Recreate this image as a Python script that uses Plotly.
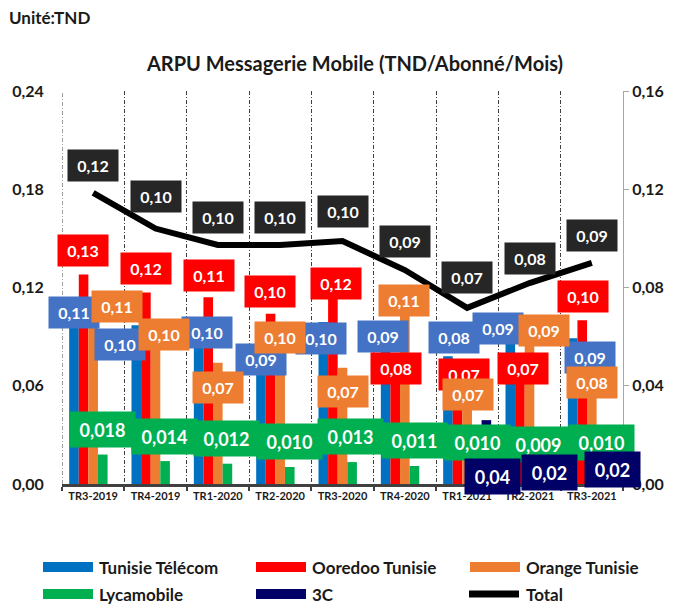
import plotly.graph_objects as go

# ---------------- data ----------------
categories = ["TR3-2019", "TR4-2019", "TR1-2020", "TR2-2020", "TR3-2020",
              "TR4-2020", "TR1-2021", "TR2-2021", "TR3-2021"]
tunisie_telecom = [0.106, 0.097, 0.101, 0.090, 0.099, 0.090, 0.078, 0.087, 0.089]
ooredoo = [0.128, 0.117, 0.114, 0.104, 0.118, 0.080, 0.070, 0.070, 0.100]
orange = [0.108, 0.100, 0.074, 0.098, 0.071, 0.107, 0.070, 0.090, 0.080]
lycamobile = [0.018, 0.014, 0.0124, 0.0104, 0.0134, 0.011, 0.010, 0.009, 0.010]
c3 = [None, None, None, None, None, None, 0.039, 0.020, 0.020]
total = [0.1185, 0.104, 0.0973, 0.0973, 0.0989, 0.0871, 0.0717, 0.0818, 0.090]

# ---------------- styles / layout ----------------
W, H = 675, 605
PL, PR, PT, PB = 62, 623, 91, 484          # plot area in pixels
FONT = "Lato"

bar_colors = {"tt": "#0070C0", "oo": "#FF0000", "or": "#ED7D31", "ly": "#00B050", "c3": "#000066"}
lab_colors = {"tt": "#4472C4", "oo": "#FF0000", "or": "#ED7D31", "ly": "#00B050", "c3": "#000066", "tot": "#262626"}

# label placement: (x offset px from category centre, height px above baseline)
lab_pos = {
    "tt": ([-19, -36, -11, -19, -22, -22, -13, -32, -2], [172, 140, 152, 125, 146, 148, 147, 156, 127]),
    "oo": ([-10, -10, -9, -10, -7, -9, -3, -7, -9], [234, 216, 209, 193, 201, 116, 110, 116, 188]),
    "or": ([24, 8, 0, 0, 0, -1, 1, 14, 0], [178, 150, 97, 147, 93, 184, 90, 154, 102]),
    "ly": ([9, 9, 9, 9, 8, 10, 10, 9, 10], [55, 48, 46, 43, 48, 44, 42, 40, 42]),
    "c3": ([0, 0, 0, 0, 0, 0, 25, 20, 21], [0, 0, 0, 0, 0, 0, 8, 12, 15]),
    "tot": ([0] * 9, [319, 288, 267, 267, 273, 243, 207, 226, 249]),
}

fig = go.Figure()
series = [("tt", "Tunisie Télécom", tunisie_telecom),
          ("oo", "Ooredoo Tunisie", ooredoo),
          ("or", "Orange Tunisie", orange),
          ("ly", "Lycamobile", lycamobile),
          ("c3", "3C", c3)]
for key, name, vals in series:
    fig.add_trace(go.Bar(x=categories, y=vals, name=name, marker_color=bar_colors[key],
                         marker_line_width=0, showlegend=False))

fig.add_trace(go.Scatter(x=categories, y=total, name="Total", mode="lines", yaxis="y2",
                         line=dict(color="black", width=6, shape="linear"), showlegend=False))

annotations = []
def add_labels(key, vals, fmt, w, h, size):
    dxs, hs = lab_pos[key]
    for i, v in enumerate(vals):
        if v is None:
            continue
        txt = fmt.format(v).replace(".", ",")
        annotations.append(dict(
            x=categories[i], y=0, xref="x", yref="y", xshift=dxs[i], yshift=hs[i],
            text="<b>" + txt + "</b>", showarrow=False, bgcolor=lab_colors[key],
            width=w, height=h, borderpad=0, xanchor="center", yanchor="middle",
            font=dict(family=FONT, size=size, color="white")))

add_labels("tt", tunisie_telecom, "{:.2f}", 50, 31, 16)
add_labels("oo", ooredoo, "{:.2f}", 50, 31, 16)
add_labels("or", orange, "{:.2f}", 50, 31, 16)
add_labels("ly", lycamobile, "{:.3f}", 65, 35, 18)
add_labels("c3", c3, "{:.2f}", 55, 35, 18)
add_labels("tot", total, "{:.2f}", 50, 31, 16)

def px(x):
    return (x - PL) / (PR - PL)
def py(y):
    return (PB - y) / (PB - PT)

shapes = []
# left-most category boundary gridline (plot edge)
shapes.append(dict(type="line", xref="x", yref="paper", x0=-0.5, x1=-0.5, y0=0, y1=1, layer="below",
                   line=dict(color="#404040", width=1, dash="4px,2px,1px,2px")))

# custom legend
legend_items = [
    ("Tunisie Télécom", bar_colors["tt"], 43, 567, "box"),
    ("Ooredoo Tunisie", bar_colors["oo"], 256, 567, "box"),
    ("Orange Tunisie", bar_colors["or"], 470, 567, "box"),
    ("Lycamobile", bar_colors["ly"], 43, 594, "box"),
    ("3C", bar_colors["c3"], 256, 594, "box"),
    ("Total", "black", 470, 594, "line"),
]
for name, col, x0, yc, kind in legend_items:
    if kind == "box":
        shapes.append(dict(type="rect", xref="paper", yref="paper", x0=px(x0), x1=px(x0 + 50),
                           y0=py(yc - 5), y1=py(yc + 5), fillcolor=col, line=dict(width=0)))
    else:
        shapes.append(dict(type="line", xref="paper", yref="paper", x0=px(x0 - 1), x1=px(x0 + 49),
                           y0=py(yc), y1=py(yc), line=dict(color=col, width=7)))
    annotations.append(dict(x=px(x0 + 54), y=py(yc), xref="paper", yref="paper", text="<b>" + name + "</b>",
                            showarrow=False, xanchor="left", yanchor="middle",
                            font=dict(family=FONT, size=17, color="#1a1a1a")))

annotations.append(dict(x=px(7), y=py(18), xref="paper", yref="paper", text="<b>Unité:TND</b>",
                        showarrow=False, xanchor="left", yanchor="middle",
                        font=dict(family=FONT, size=17, color="#1a1a1a")))

fig.update_layout(
    width=W, height=H, autosize=False,
    margin=dict(l=PL, r=W - PR, t=PT, b=H - PB, pad=0, autoexpand=False),
    paper_bgcolor="white", plot_bgcolor="white",
    separators=", ",
    barmode="group", bargap=0.23, bargroupgap=0,
    title=dict(text="<b>ARPU Messagerie Mobile (TND/Abonné/Mois)</b>", x=355 / W, y=1 - 64 / H,
               xanchor="center", yanchor="middle", font=dict(family=FONT, size=20, color="#1a1a1a"),
               automargin=False),
    xaxis=dict(type="category", range=[-0.5, len(categories) - 0.5], autorange=False,
               tickson="boundaries", showgrid=True, gridcolor="#404040", gridwidth=1,
               griddash="4px,2px,1px,2px", showline=True, linecolor="#404040", linewidth=3,
               ticks="outside", ticklen=4, tickwidth=2, tickcolor="#404040", tickangle=0,
               automargin=False,
               tickfont=dict(family=FONT, size=11, color="#1a1a1a"), tickprefix="<b>", ticksuffix="</b>"),
    yaxis=dict(range=[0, 0.24], dtick=0.06, tickformat=".2f", showgrid=False, zeroline=False,
               showline=False, ticks="outside", ticklen=14, tickcolor="rgba(0,0,0,0)", automargin=False,
               tickfont=dict(family=FONT, size=16, color="#1a1a1a"), tickprefix="<b>", ticksuffix="</b>"),
    yaxis2=dict(range=[0, 0.16], dtick=0.04, tickformat=".2f", overlaying="y", side="right",
                showgrid=False, zeroline=False, showline=True, linecolor="#A6A6A6", linewidth=1,
                ticks="outside", ticklen=5, tickcolor="#A6A6A6", automargin=False,
                tickfont=dict(family=FONT, size=16, color="#1a1a1a"), tickprefix="<b>", ticksuffix="</b>"),
    annotations=annotations,
    shapes=shapes,
    showlegend=False,
)

fig.write_html("out.html", config={"displayModeBar": False},
               post_script="document.body.style.margin='0';document.body.style.overflow='hidden';")
